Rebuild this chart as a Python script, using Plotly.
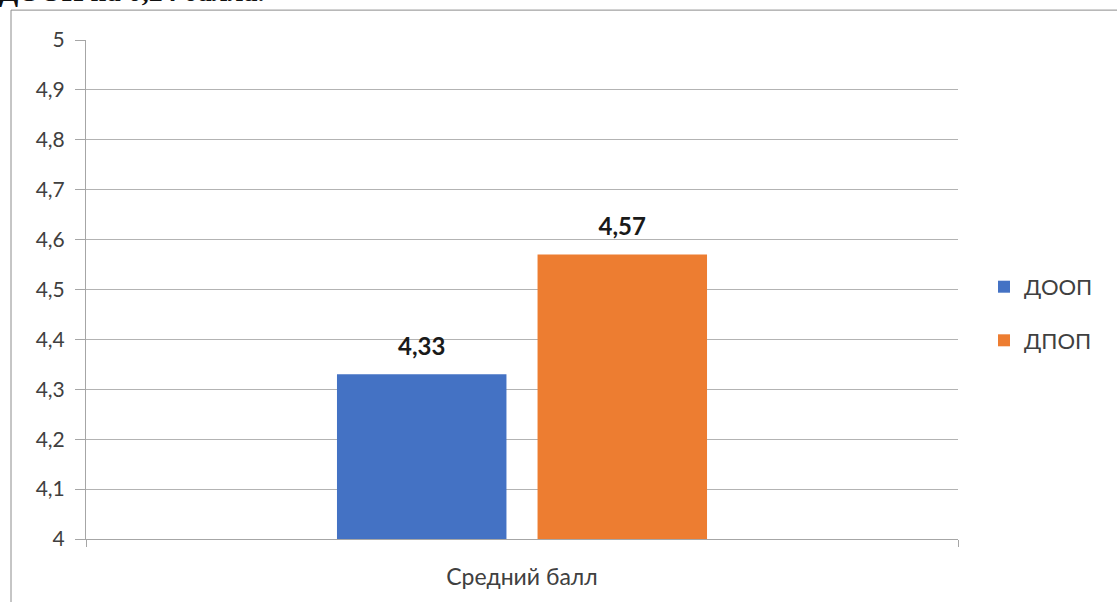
import plotly.graph_objects as go

categories = ["Средний балл"]
series_names = ["ДООП", "ДПОП"]
doop_values = [4.33]
dpop_values = [4.57]
value_labels_doop = ["4,33"]
value_labels_dpop = ["4,57"]
colors = ["#4472C4", "#ED7D31"]
y_tickvals = [4.0, 4.1, 4.2, 4.3, 4.4, 4.5, 4.6, 4.7, 4.8, 4.9, 5.0]
y_ticktext = ["4", "4,1", "4,2", "4,3", "4,4", "4,5", "4,6", "4,7", "4,8", "4,9", "5"]
page_text = "ДООП на 0,24 балла."

FONT = "Lato"
W, H = 1117, 602
L, R, T, B = 86, W - 958, 40, H - 541
PW, PH = W - L - R, H - T - B

fig = go.Figure()
series = [(series_names[0], doop_values, value_labels_doop, colors[0]),
          (series_names[1], dpop_values, value_labels_dpop, colors[1])]
for i, (name, vals, labels, col) in enumerate(series):
    fig.add_trace(go.Bar(
        x=categories, y=vals, name=name, marker=dict(color=col, line=dict(width=0)),
        offsetgroup=str(i), legendgroup=name, hoverinfo="skip",
    ))
for i, (name, vals, labels, col) in enumerate(series):
    fig.add_trace(go.Scatter(
        x=categories, y=vals, mode="markers+text", text=labels,
        textposition="top center", offsetgroup=str(i),
        marker=dict(size=20, opacity=0), showlegend=False, hoverinfo="skip",
        textfont=dict(family=FONT, size=24, color="#1a1a1a", weight="bold"),
        cliponaxis=False,
    ))

px2x = lambda px: (px - L) / PW
px2y = lambda py: (H - B - py) / PH

fig.add_shape(type="rect", xref="paper", yref="paper",
              x0=px2x(11), x1=px2x(W + 20), y0=px2y(H + 20), y1=px2y(10),
              line=dict(color="#8c8c8c", width=1), fillcolor="rgba(0,0,0,0)", layer="below")
fig.add_annotation(text=page_text, xref="paper", yref="paper",
                   x=px2x(-3), y=px2y(-9), xanchor="left", yanchor="middle",
                   showarrow=False, font=dict(family="Liberation Serif", size=28, color="#111111", weight="bold"))

fig.update_layout(
    width=W, height=H,
    margin=dict(l=L, r=R, t=T, b=B),
    paper_bgcolor="white", plot_bgcolor="white",
    barmode="group", bargap=0.54, bargroupgap=0.155,
    scattermode="group", scattergap=0.54,
    font=dict(family=FONT, size=21, color="#404040"),
    legend=dict(x=px2x(984), y=px2y(315), xanchor="left", yanchor="middle",
                font=dict(family=FONT, size=22, color="#404040"),
                traceorder="grouped", tracegroupgap=22, itemwidth=30,
                bgcolor="rgba(0,0,0,0)"),
    showlegend=True,
)
fig.update_xaxes(
    type="category", range=[-0.5, 0.5], showgrid=False,
    showline=True, linecolor="#a6a6a6", linewidth=1,
    ticks="outside", tickson="boundaries", ticklen=7, tickcolor="#a6a6a6",
    ticklabelstandoff=17, tickfont=dict(family=FONT, size=23, color="#404040"),
    fixedrange=True,
)
fig.update_yaxes(
    range=[4, 5], tickvals=y_tickvals, ticktext=y_ticktext,
    showgrid=True, gridcolor="#b3b3b3", gridwidth=1,
    showline=True, linecolor="#a6a6a6", linewidth=1,
    ticks="outside", ticklen=10, tickcolor="#a6a6a6",
    ticklabelstandoff=6, tickfont=dict(family=FONT, size=21, color="#404040"),
    zeroline=False, fixedrange=True,
)

fig.write_html("out.html", config={"displayModeBar": False},
               post_script="document.body.style.margin='0';document.body.style.overflow='hidden';")
